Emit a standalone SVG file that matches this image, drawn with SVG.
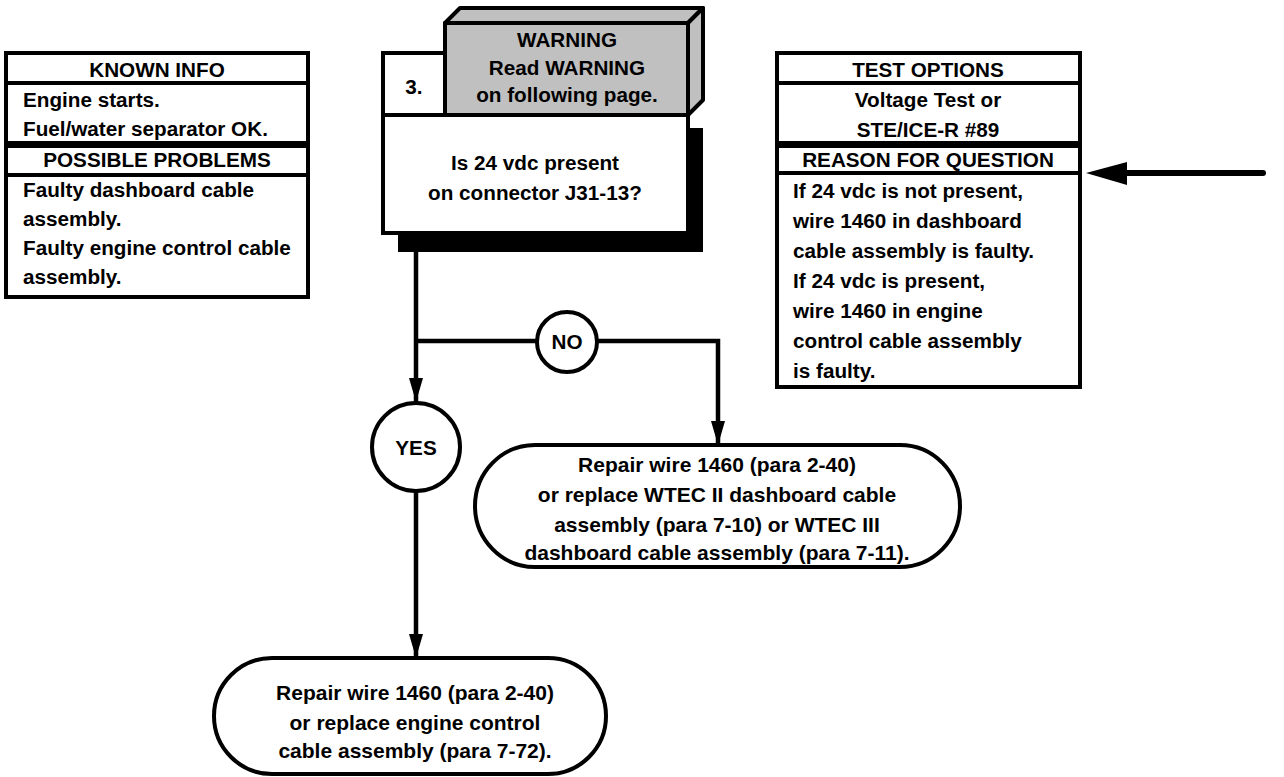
<svg xmlns="http://www.w3.org/2000/svg" width="1284" height="777" viewBox="0 0 1284 777">
<defs>
<style>
.t{font-family:"Liberation Sans",Arial,sans-serif;font-weight:bold;font-size:20.7px;fill:#000}
.p{font-size:21px}
.c{text-anchor:middle}
.box{fill:#fff;stroke:#000;stroke-width:4}
.ln{fill:none;stroke:#000;stroke-width:4}
.wire{fill:none;stroke:#000;stroke-width:4.5}
.gray{fill:#c0c0c0;stroke:#000;stroke-width:4;stroke-linejoin:round}
</style>
<marker id="ah" markerUnits="userSpaceOnUse" viewBox="0 0 24 14" refX="24" refY="7" markerWidth="24" markerHeight="14" orient="auto">
<path d="M0,0 L24,7 L0,14 Z" fill="#000"/>
</marker>
</defs>
<rect width="1284" height="777" fill="#fff"/>

<g id="known-info">
<rect class="box" x="6" y="53" width="302" height="90"/>
<line class="ln" x1="6" y1="83" x2="308" y2="83"/>
<rect class="box" x="6" y="146" width="302" height="151"/>
<line class="ln" x1="6" y1="175" x2="308" y2="175"/>
<text class="t c" x="157" y="77">KNOWN INFO</text>
<text class="t" x="23" y="107">Engine starts.</text>
<text class="t" x="23" y="136">Fuel/water separator OK.</text>
<text class="t c" x="157" y="167">POSSIBLE PROBLEMS</text>
<text class="t" x="23" y="197">Faulty dashboard cable</text>
<text class="t" x="23" y="226">assembly.</text>
<text class="t" x="23" y="255">Faulty engine control cable</text>
<text class="t" x="23" y="284">assembly.</text>
</g>

<g id="test-options">
<rect class="box" x="777" y="53" width="303" height="90"/>
<line class="ln" x1="777" y1="83" x2="1080" y2="83"/>
<rect class="box" x="777" y="146" width="303" height="241"/>
<line class="ln" x1="777" y1="173" x2="1080" y2="173"/>
<text class="t c" x="928" y="77">TEST OPTIONS</text>
<text class="t c" x="928" y="107">Voltage Test or</text>
<text class="t c" x="928" y="137">STE/ICE-R #89</text>
<text class="t c" x="928" y="167">REASON FOR QUESTION</text>
<text class="t" x="793" y="198">If 24 vdc is not present,</text>
<text class="t" x="793" y="228">wire 1460 in dashboard</text>
<text class="t" x="793" y="258">cable assembly is faulty.</text>
<text class="t" x="793" y="288">If 24 vdc is present,</text>
<text class="t" x="793" y="318">wire 1460 in engine</text>
<text class="t" x="793" y="348">control cable assembly</text>
<text class="t" x="793" y="378">is faulty.</text>
</g>

<g id="step3">
<rect x="398" y="128" width="305" height="124" fill="#000"/>
<polygon class="gray" points="445,23 460,8 703,8 688,23"/>
<polygon class="gray" points="688,23 703,8 703,100 688,115"/>
<rect class="gray" x="445" y="23" width="243" height="92"/>
<rect class="box" x="383" y="53" width="62" height="62"/>
<rect class="box" x="383" y="115" width="305" height="118"/>
<text class="t c" x="414" y="94">3.</text>
<text class="t c" x="567" y="47">WARNING</text>
<text class="t c" x="567" y="75">Read WARNING</text>
<text class="t c" x="567" y="102">on following page.</text>
<text class="t c" x="535" y="170">Is 24 vdc present</text>
<text class="t c" x="535" y="200">on connector J31-13?</text>
</g>

<g id="connectors">
<line class="wire" x1="416" y1="252" x2="416" y2="402" marker-end="url(#ah)"/>
<line class="wire" x1="416" y1="341" x2="537" y2="341"/>
<polyline class="wire" points="597,341 718,341 718,445" marker-end="url(#ah)"/>
<line class="wire" x1="416" y1="491" x2="416" y2="658" marker-end="url(#ah)"/>
<line x1="1263" y1="173" x2="1120" y2="173" stroke="#000" stroke-width="6" stroke-linecap="round"/>
<polygon points="1086,173 1127,162 1127,185" fill="#000"/>
</g>

<g id="no">
<circle cx="567" cy="342" r="30" fill="#fff" stroke="#000" stroke-width="4"/>
<text class="t c" x="567" y="349">NO</text>
</g>

<g id="yes">
<circle cx="416" cy="447" r="44" fill="#fff" stroke="#000" stroke-width="4"/>
<text class="t c" x="416" y="455">YES</text>
</g>

<g id="repair-dashboard">
<rect class="box" x="475" y="445" width="485" height="122" rx="60" ry="61"/>
<text class="t p c" x="717" y="472">Repair wire 1460 (para 2-40)</text>
<text class="t p c" x="717" y="502">or replace WTEC II dashboard cable</text>
<text class="t p c" x="717" y="532">assembly (para 7-10) or WTEC III</text>
<text class="t p c" x="717" y="560">dashboard cable assembly (para 7-11).</text>
</g>

<g id="repair-engine">
<rect class="box" x="214" y="658" width="392" height="116" rx="58" ry="58"/>
<text class="t p c" x="415" y="700">Repair wire 1460 (para 2-40)</text>
<text class="t p c" x="415" y="730">or replace engine control</text>
<text class="t p c" x="415" y="758">cable assembly (para 7-72).</text>
</g>
</svg>
